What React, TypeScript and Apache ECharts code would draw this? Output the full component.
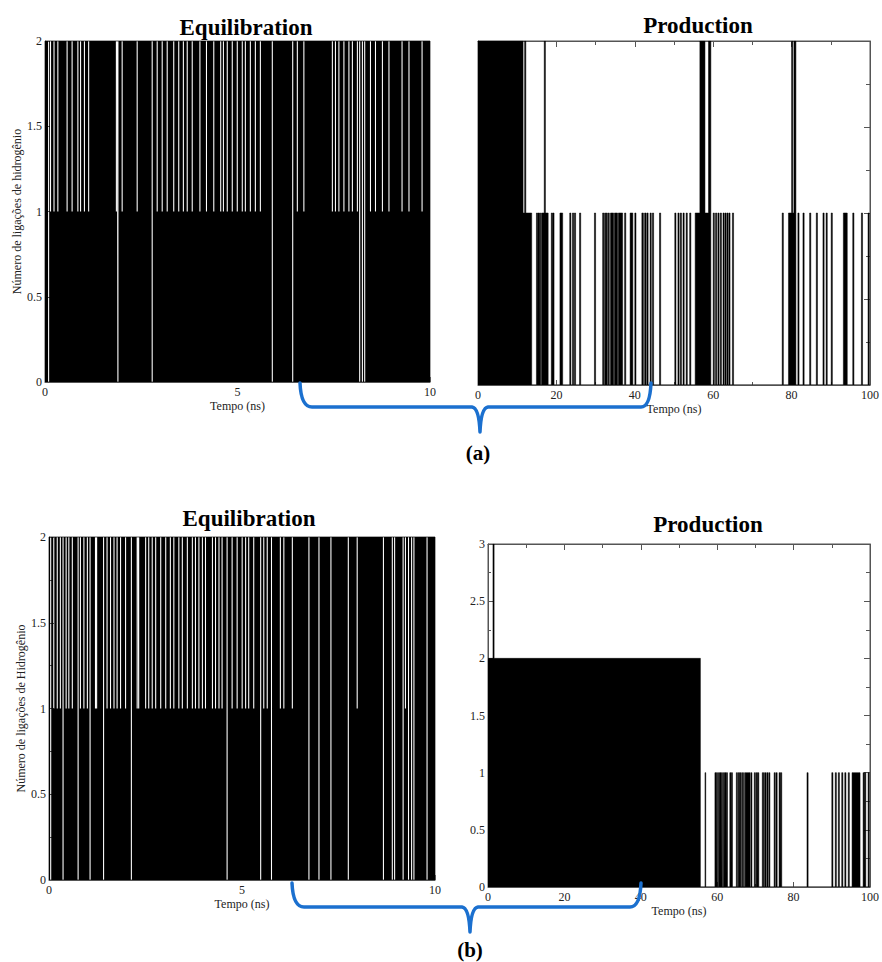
import React, { useEffect, useRef } from 'react';
import * as echarts from 'echarts';

// ---------- DATA ----------
// Equilibration (a): base value 2, instants where the count drops to 1 or to 0 (ns)
const EQ_A_DROP_TO_1 = [0.13, 0.22, 0.32, 0.56, 0.69, 0.84, 0.91, 1.01, 1.12, 1.84, 1.99, 2.38, 2.9, 3.03, 3.16, 3.33, 3.46, 3.58, 3.68, 3.81, 4.01, 4.18, 4.37, 4.55, 4.62, 4.72, 4.85, 4.98, 5.11, 5.19, 5.32, 5.45, 5.58, 6.54, 6.71, 7.45, 7.53, 7.62, 7.75, 7.88, 7.97, 8.1, 8.44, 8.57, 8.75, 8.92, 9.26, 9.44, 9.78];
const EQ_A_DROP_TO_0 = [0.08, 1.88, 2.77, 5.89, 6.42, 8.16, 8.23, 8.29];

// Equilibration (b)
const EQ_B_DROP_TO_1 = [0.11, 0.2, 0.28, 0.43, 0.5, 0.59, 0.8, 0.89, 0.98, 1.19, 1.22, 1.49, 1.58, 1.67, 1.75, 1.84, 1.97, 2.27, 2.31, 2.49, 2.57, 2.66, 2.75, 2.88, 3.01, 3.13, 3.22, 3.35, 3.44, 3.57, 3.7, 3.78, 3.87, 3.96, 4.04, 4.22, 4.3, 4.39, 4.47, 4.73, 4.86, 4.99, 5.08, 5.16, 5.29, 5.55, 5.64, 5.98, 6.07, 6.29, 7.97, 9.22];
const EQ_B_DROP_TO_0 = [0.03, 0.35, 0.74, 1.05, 1.4, 2.12, 4.6, 5.47, 5.75, 6.72, 6.98, 7.29, 7.74, 8.65, 8.88, 8.94, 9.16, 9.3, 9.38, 9.44, 9.78];
const EQ_GAP_WIDTH = 0.028;

// Production (a): [start ns, end ns, number of H-bonds]; 0 elsewhere
const PROD_A_BARS: number[][] = [
  [0, 11.5, 2], [11.5, 11.9, 1], [11.9, 12.2, 2], [12.2, 13.7, 1],
  [14.9, 15.2, 1], [15.3, 15.6, 1], [15.7, 16.0, 1], [16.2, 16.9, 1], [16.9, 17.2, 2], [17.2, 17.9, 1],
  [18.7, 19.0, 1], [19.1, 19.4, 1], [20.9, 21.6, 1], [23.4, 23.7, 1], [24.1, 24.4, 1], [24.6, 24.9, 1],
  [25.9, 26.2, 1], [29.7, 30.0, 1], [31.8, 32.1, 1], [32.3, 32.6, 1], [32.7, 33.0, 1], [33.2, 33.5, 1],
  [33.8, 34.6, 1], [34.8, 35.6, 1], [35.8, 36.9, 1], [37.4, 37.7, 1], [38.8, 39.5, 1], [40.0, 40.3, 1],
  [41.8, 42.2, 1], [42.5, 42.9, 1], [43.1, 43.4, 1], [43.9, 44.2, 1], [44.5, 44.8, 1], [46.3, 46.6, 1],
  [50.2, 50.5, 1], [51.0, 51.3, 1], [51.6, 51.9, 1], [52.3, 52.6, 1], [53.1, 53.4, 1], [54.0, 54.3, 1],
  [55.4, 56.6, 1], [56.6, 57.9, 2], [57.9, 58.8, 1], [58.8, 59.4, 2],
  [60.0, 60.3, 1], [60.6, 60.9, 1], [61.2, 61.5, 1], [61.8, 62.1, 1], [62.5, 62.8, 1], [63.0, 63.3, 1],
  [63.5, 63.8, 1], [64.0, 64.3, 1], [64.9, 65.2, 1], [77.6, 77.9, 1],
  [79.2, 80.0, 1], [80.0, 80.3, 2], [80.3, 80.6, 1], [80.6, 81.1, 2],
  [81.6, 81.9, 1], [82.9, 83.2, 1], [84.6, 84.9, 1], [86.3, 86.6, 1], [88.0, 88.3, 1], [88.8, 89.1, 1],
  [90.1, 90.4, 1], [93.2, 94.2, 1], [95.6, 95.9, 1], [97.8, 98.1, 1], [99.5, 99.8, 1],
];

// Production (b)
const PROD_B_BARS: number[][] = [
  [0, 1.3, 2], [1.3, 1.6, 3], [1.6, 55.6, 2], [56.8, 57.0, 1],
  [59.4, 59.7, 1], [59.8, 60.1, 1], [60.3, 60.6, 1], [60.7, 61.0, 1], [61.1, 61.4, 1], [61.6, 61.9, 1],
  [62.0, 62.3, 1], [62.4, 62.7, 1], [63.3, 63.6, 1], [63.7, 64.0, 1], [65.0, 65.3, 1], [65.5, 65.8, 1],
  [65.9, 66.2, 1], [66.4, 66.7, 1], [66.9, 67.1, 1], [67.3, 68.6, 1], [68.8, 69.1, 1], [69.7, 70.0, 1],
  [70.2, 70.5, 1], [70.6, 70.9, 1], [71.8, 72.2, 1], [72.4, 72.8, 1], [73.0, 73.3, 1], [73.5, 73.8, 1],
  [74.9, 75.2, 1], [75.4, 75.7, 1], [76.2, 76.5, 1], [76.6, 76.9, 1], [83.5, 83.8, 1],
  [90.0, 90.3, 1], [90.9, 91.2, 1], [91.7, 92.0, 1], [92.6, 92.9, 1], [93.4, 93.7, 1], [94.3, 94.6, 1],
  [95.3, 97.4, 1], [98.2, 98.5, 1], [98.6, 98.9, 1], [99.5, 99.8, 1],
];

const EQ_X_MAX = 10;
const PROD_X_MAX = 100;
const Y_LABEL_A = 'Número de ligações de hidrogênio';
const Y_LABEL_B = 'Número de ligações de Hidrogênio';
const X_LABEL = 'Tempo (ns)';

// ---------- helpers (turn the lists into step-series points) ----------
function gapSteps(to1: number[], to0: number[], base: number, width: number, tMax: number) {
  const gaps = [...to1.map((t) => [t, 1]), ...to0.map((t) => [t, 0])].sort((a, b) => a[0] - b[0]);
  const pts: number[][] = [[0, base]];
  gaps.forEach(([t, v], i) => {
    const next = gaps[i + 1];
    const end = next ? Math.min(t + width, next[0]) : t + width;
    pts.push([t, v]);
    if (!next || next[0] > end) pts.push([end, base]);
  });
  pts.push([tMax, base]);
  return pts;
}

function barSteps(bars: number[][], tMax: number) {
  const pts: number[][] = [];
  if (bars[0][0] > 0) pts.push([0, 0]);
  bars.forEach(([s, e, v], i) => {
    pts.push([s, v]);
    const next = bars[i + 1];
    if (!next || next[0] > e) pts.push([e, 0]);
  });
  pts.push([tMax, 0]);
  return pts;
}

const SERIF = "'Liberation Serif', 'DejaVu Serif', 'Times New Roman', serif";
const AXIS_COLOR = '#555';
const BLUE = '#1b70cf';

let registered = false;
function registerShapes() {
  if (registered) return;
  registered = true;
  echarts.graphic.registerShape(
    'bracketA',
    echarts.graphic.extendPath(
      'M300,383 Q301,407 312,407 L472,407 Q479,408 480,432 Q481,408 488,407 L641,407 Q650,407 651,383',
      {}
    )
  );
  echarts.graphic.registerShape(
    'bracketB',
    echarts.graphic.extendPath(
      'M292,883 Q293,907 304,907 L462,907 Q469,908 470,932 Q471,908 478,907 L630,907 Q640,907 641,883',
      {}
    )
  );
}

function xAxisMain(gridIndex: number, max: number, interval: number, minorSplit: number) {
  return {
    type: 'value',
    gridIndex,
    position: 'bottom',
    min: 0,
    max,
    interval,
    name: X_LABEL,
    nameLocation: 'middle',
    nameGap: 18,
    nameTextStyle: { fontFamily: SERIF, fontSize: 12, color: '#222' },
    axisLine: { show: true, onZero: false, lineStyle: { color: AXIS_COLOR, width: 1 } },
    axisTick: { show: true, inside: true, length: 5, lineStyle: { color: AXIS_COLOR } },
    minorTick: { show: minorSplit > 0, splitNumber: minorSplit || 5, length: 3, lineStyle: { color: AXIS_COLOR } },
    axisLabel: { fontFamily: SERIF, fontSize: 12, color: '#222', margin: 4 },
    splitLine: { show: false },
  };
}

function xAxisMirror(gridIndex: number, max: number, interval: number) {
  return {
    type: 'value',
    gridIndex,
    position: 'top',
    min: 0,
    max,
    interval,
    axisLine: { show: true, onZero: false, lineStyle: { color: AXIS_COLOR, width: 1 } },
    axisTick: { show: true, inside: true, length: 6, lineStyle: { color: AXIS_COLOR } },
    minorTick: { show: true, splitNumber: 2, length: 4, lineStyle: { color: AXIS_COLOR } },
    axisLabel: { show: false },
    splitLine: { show: false },
  };
}

function yAxisMain(gridIndex: number, max: number, name: string, showLabels: boolean) {
  return {
    type: 'value',
    gridIndex,
    position: 'left',
    min: 0,
    max,
    interval: 0.5,
    name,
    nameLocation: 'middle',
    nameGap: 21,
    nameTextStyle: { fontFamily: SERIF, fontSize: 12, color: '#222' },
    axisLine: { show: true, onZero: false, lineStyle: { color: AXIS_COLOR, width: 1 } },
    axisTick: { show: true, inside: true, length: 5, lineStyle: { color: AXIS_COLOR } },
    minorTick: { show: true, splitNumber: 2, length: 3, lineStyle: { color: AXIS_COLOR } },
    axisLabel: { show: showLabels, fontFamily: SERIF, fontSize: 12, color: '#222', margin: 3 },
    splitLine: { show: false },
  };
}

function yAxisMirror(gridIndex: number, max: number) {
  return {
    type: 'value',
    gridIndex,
    position: 'right',
    min: 0,
    max,
    interval: 0.5,
    axisLine: { show: true, onZero: false, lineStyle: { color: AXIS_COLOR, width: 1 } },
    axisTick: { show: true, inside: true, length: 6, lineStyle: { color: AXIS_COLOR } },
    minorTick: { show: true, splitNumber: 2, length: 4, lineStyle: { color: AXIS_COLOR } },
    axisLabel: { show: false },
    splitLine: { show: false },
  };
}

function stepSeries(idx: number, data: number[][], lineWidth: number) {
  return {
    type: 'line',
    xAxisIndex: idx,
    yAxisIndex: idx,
    data,
    step: 'end',
    symbol: 'none',
    silent: true,
    clip: true,
    lineStyle: { color: '#000', width: lineWidth },
    areaStyle: { color: '#000', opacity: 1 },
    z: 2,
  };
}

function titleText(text: string, x: number, y: number, size: number) {
  return {
    type: 'text',
    x,
    y,
    z: 100,
    style: {
      text,
      fontFamily: SERIF,
      fontWeight: 'bold',
      fontSize: size,
      fill: '#000',
      textAlign: 'center',
      textVerticalAlign: 'middle',
    },
  };
}

export default function App() {
  const ref = useRef<HTMLDivElement>(null);

  useEffect(() => {
    if (!ref.current) return;
    registerShapes();
    const chart = echarts.init(ref.current, undefined, { renderer: 'svg' });

    const eqA = gapSteps(EQ_A_DROP_TO_1, EQ_A_DROP_TO_0, 2, EQ_GAP_WIDTH, EQ_X_MAX);
    const eqB = gapSteps(EQ_B_DROP_TO_1, EQ_B_DROP_TO_0, 2, EQ_GAP_WIDTH, EQ_X_MAX);
    const prA = barSteps(PROD_A_BARS, PROD_X_MAX);
    const prB = barSteps(PROD_B_BARS, PROD_X_MAX);

    const gridStyle = { show: true, borderColor: AXIS_COLOR, borderWidth: 1, backgroundColor: '#fff' };

    chart.setOption({
      animation: false,
      backgroundColor: '#fff',
      grid: [
        { left: 45, top: 41, width: 385, height: 341, ...gridStyle },
        { left: 478, top: 41, width: 392, height: 344, ...gridStyle },
        { left: 49, top: 537, width: 386, height: 343, ...gridStyle },
        { left: 488, top: 544, width: 387, height: 343, ...gridStyle },
      ],
      xAxis: [
        xAxisMain(0, EQ_X_MAX, 5, 0),
        xAxisMain(1, PROD_X_MAX, 20, 2),
        xAxisMain(2, EQ_X_MAX, 5, 0),
        xAxisMain(3, PROD_X_MAX, 20, 2),
        xAxisMirror(1, PROD_X_MAX, 20),
        xAxisMirror(3, PROD_X_MAX, 20),
      ],
      yAxis: [
        yAxisMain(0, 2, Y_LABEL_A, true),
        yAxisMain(1, 2, '', false),
        yAxisMain(2, 2, Y_LABEL_B, true),
        yAxisMain(3, 3, '', true),
        yAxisMirror(1, 2),
        yAxisMirror(3, 3),
      ],
      series: [
        stepSeries(0, eqA, 0),
        stepSeries(1, prA, 0.5),
        stepSeries(2, eqB, 0),
        stepSeries(3, prB, 0.5),
      ],
      graphic: [
        titleText('Equilibration', 246, 27, 23),
        titleText('Production', 698, 25, 23),
        titleText('Equilibration', 249, 518, 23),
        titleText('Production', 708, 524, 23),
        titleText('(a)', 478, 453, 21),
        titleText('(b)', 470, 950, 21),
        {
          type: 'bracketA',
          x: 0,
          y: 0,
          z: 100,
          style: { stroke: BLUE, fill: 'none', lineWidth: 3.5, lineCap: 'round', lineJoin: 'round' },
        },
        {
          type: 'bracketB',
          x: 0,
          y: 0,
          z: 100,
          style: { stroke: BLUE, fill: 'none', lineWidth: 3.5, lineCap: 'round', lineJoin: 'round' },
        },
      ],
    });

    return () => {
      chart.dispose();
    };
  }, []);

  return (
    <div
      ref={ref}
      style={{ position: 'absolute', left: 0, top: 0, width: 882, height: 962, background: '#fff' }}
    />
  );
}
